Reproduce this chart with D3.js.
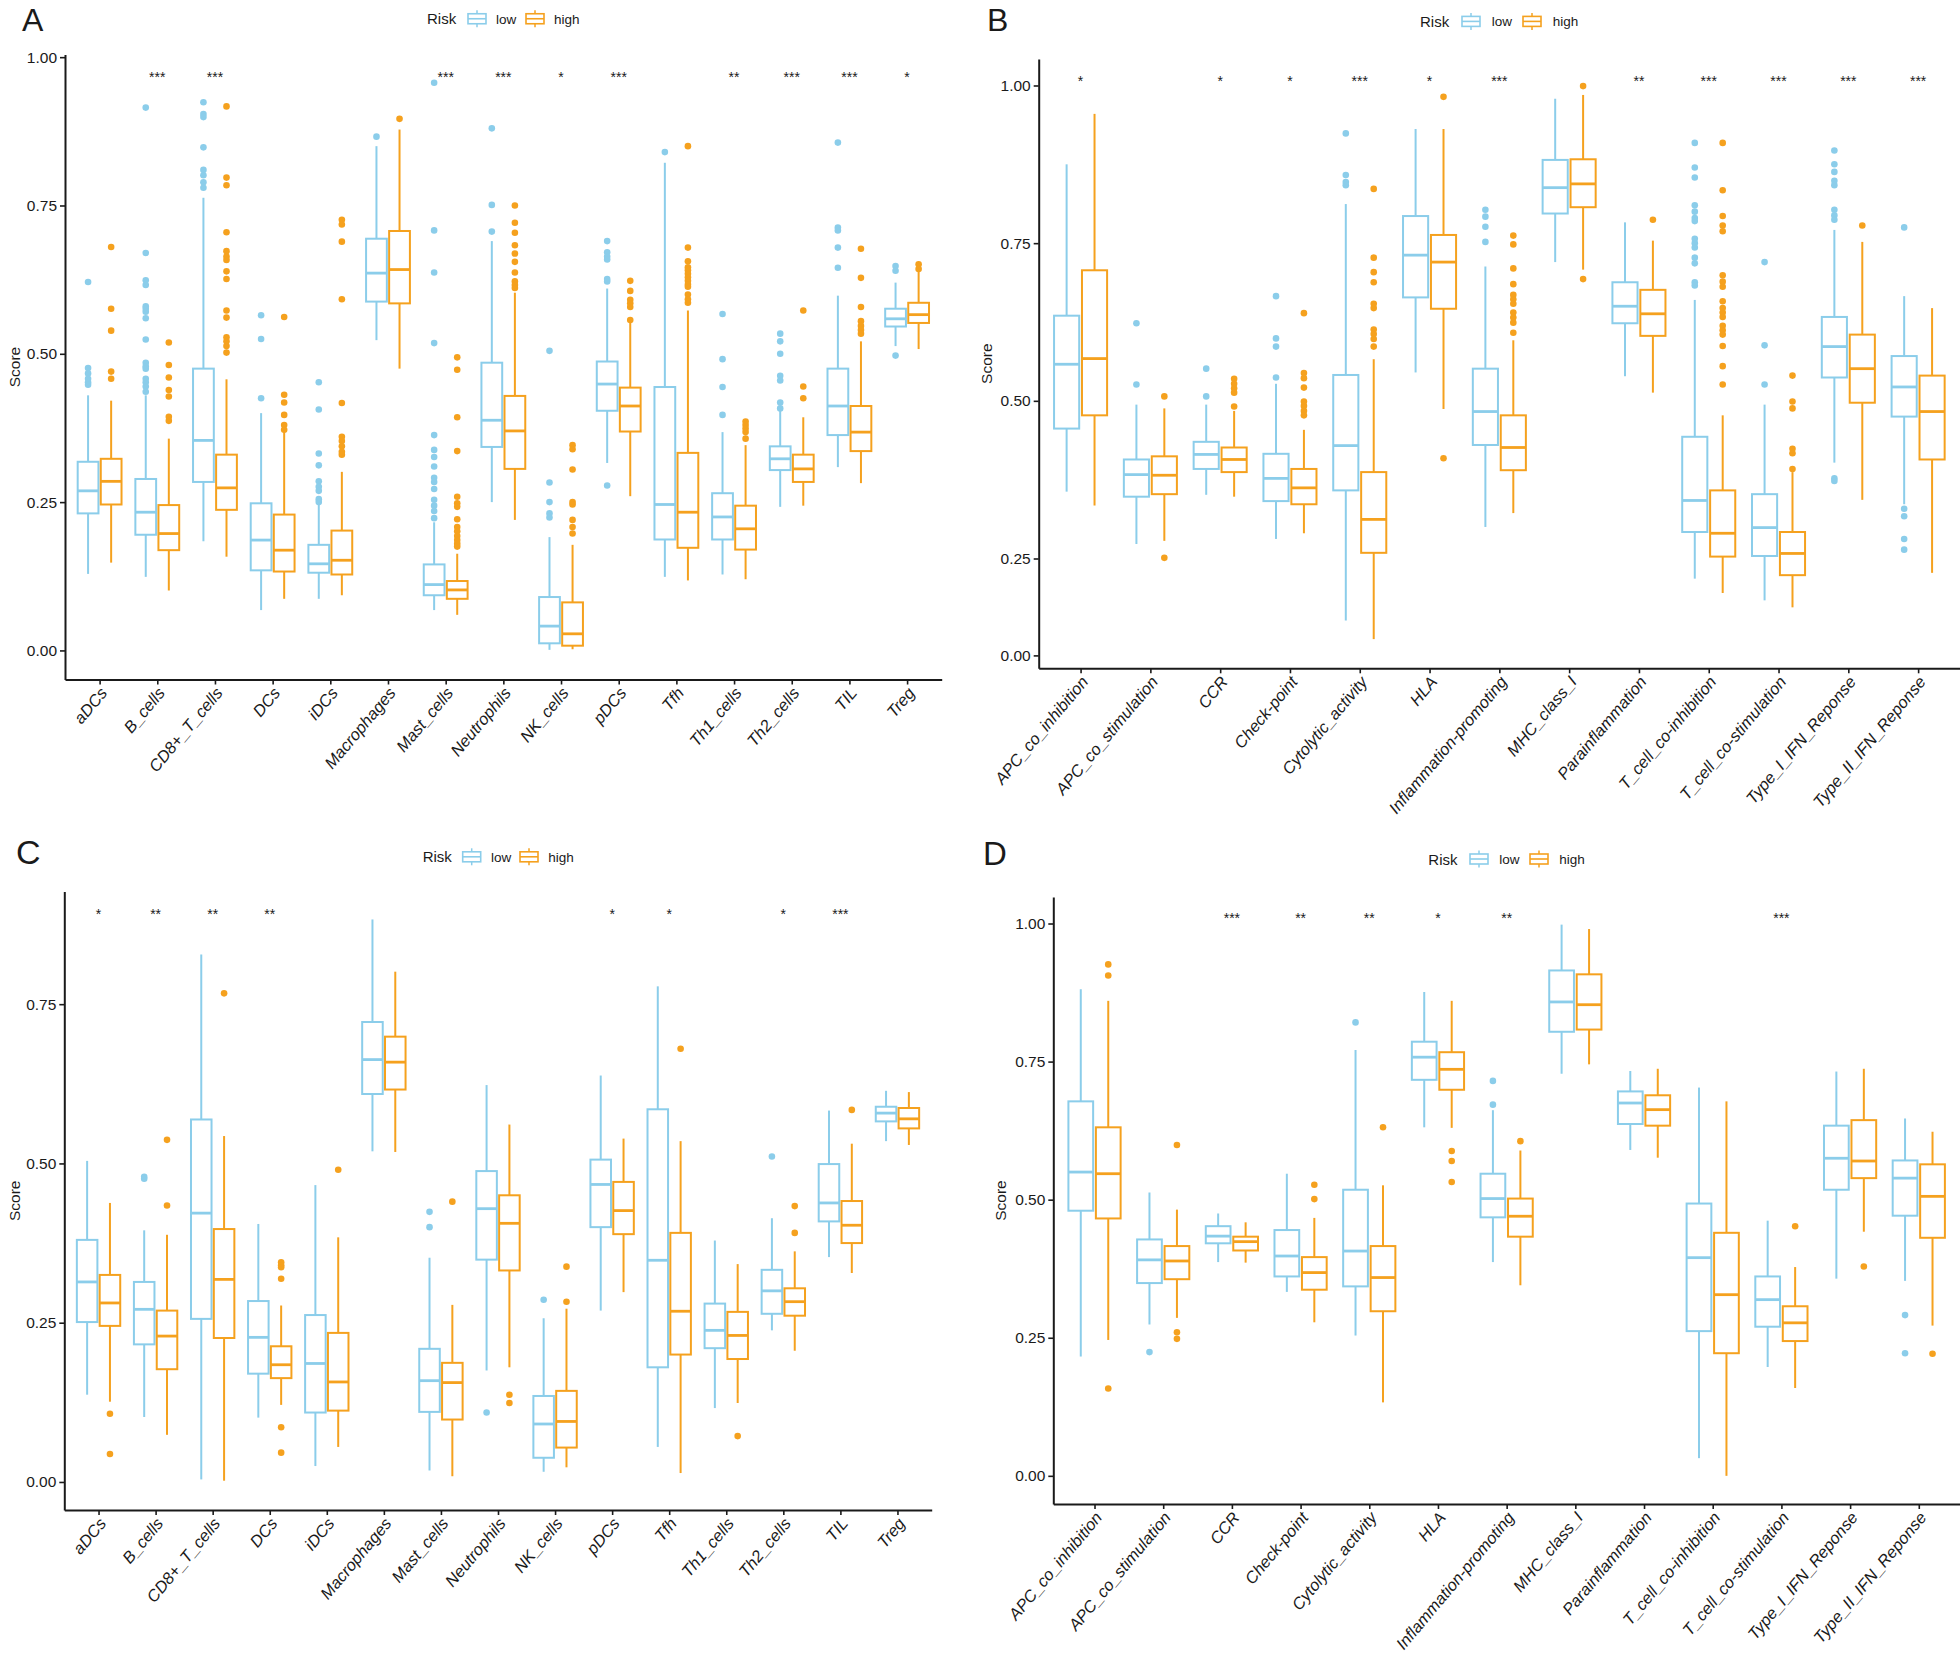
<!DOCTYPE html>
<html>
<head>
<meta charset="utf-8">
<script src="https://cdn.jsdelivr.net/npm/d3@7"></script>
<style>
  body { margin: 0; background: #fff; }
  svg { font-family: "Liberation Sans", Arial, Helvetica, sans-serif; }
</style>
</head>
<body>
<script>
// ---- categories & significance labels ----
const cellTypes = ["aDCs","B_cells","CD8+_T_cells","DCs","iDCs","Macrophages","Mast_cells","Neutrophils","NK_cells","pDCs","Tfh","Th1_cells","Th2_cells","TIL","Treg"];
const immuneFunctions = ["APC_co_inhibition","APC_co_stimulation","CCR","Check-point","Cytolytic_activity","HLA","Inflammation-promoting","MHC_class_I","Parainflammation","T_cell_co-inhibition","T_cell_co-stimulation","Type_I_IFN_Reponse","Type_II_IFN_Reponse"];
const groups = ["low", "high"];
const yTicks = [0, 0.25, 0.5, 0.75, 1];

const starsA = ["","***","***","","","","***","***","*","***","","**","***","***","*"];
const starsB = ["*","","*","*","***","*","***","","**","***","***","***","***"];
const starsC = ["*","**","**","**","","","","","","*","*","","*","***",""];
const starsD = ["","","***","**","**","*","**","","","","***","",""];

// ---- box stats: [lower whisker, Q1, median, Q3, upper whisker] ----
const boxA_low = [
  [0.129,0.231,0.269,0.318,0.430],[0.124,0.195,0.233,0.289,0.430],[0.184,0.284,0.354,0.475,0.763],
  [0.068,0.135,0.186,0.248,0.400],[0.087,0.131,0.146,0.178,0.248],[0.523,0.588,0.636,0.694,0.850],
  [0.068,0.093,0.111,0.145,0.216],[0.250,0.343,0.388,0.485,0.690],[0.001,0.012,0.041,0.090,0.191],
  [0.316,0.404,0.449,0.487,0.610],[0.124,0.187,0.246,0.444,0.822],[0.128,0.187,0.225,0.265,0.368],
  [0.242,0.304,0.323,0.344,0.404],[0.309,0.363,0.412,0.475,0.598],[0.513,0.546,0.559,0.576,0.620]];
const boxA_high = [
  [0.148,0.246,0.285,0.323,0.421],[0.101,0.169,0.197,0.245,0.357],[0.158,0.237,0.274,0.330,0.457],
  [0.087,0.133,0.169,0.229,0.374],[0.093,0.128,0.152,0.202,0.301],[0.475,0.585,0.642,0.707,0.878],
  [0.060,0.087,0.102,0.117,0.163],[0.220,0.306,0.370,0.429,0.603],[0.002,0.008,0.028,0.081,0.178],
  [0.260,0.369,0.412,0.443,0.555],[0.118,0.173,0.233,0.333,0.573],[0.120,0.170,0.205,0.244,0.346],
  [0.244,0.284,0.306,0.330,0.393],[0.282,0.336,0.368,0.412,0.521],[0.508,0.552,0.566,0.586,0.639]];
const outA_low = [
  [0.621,0.476,0.467,0.458,0.452,0.448],
  [0.915,0.670,0.624,0.616,0.580,0.576,0.571,0.560,0.524,0.485,0.479,0.475,0.458,0.452,0.445,0.436],
  [0.924,0.904,0.899,0.848,0.810,0.801,0.789,0.780],
  [0.565,0.525,0.425],
  [0.452,0.406,0.332,0.312,0.285,0.276,0.269,0.255,0.250],
  [0.866],
  [0.957,0.708,0.637,0.518,0.363,0.338,0.326,0.310,0.291,0.284,0.272,0.254,0.244,0.235,0.223],
  [0.880,0.751,0.706],
  [0.505,0.283,0.250,0.231,0.224],
  [0.690,0.671,0.664,0.659,0.626,0.622,0.278],
  [0.840],
  [0.567,0.491,0.444,0.397],
  [0.534,0.521,0.500,0.463,0.455,0.418,0.408],
  [0.856,0.713,0.708,0.679,0.645],
  [0.648,0.640,0.497]];
const outA_high = [
  [0.680,0.576,0.539,0.470,0.458],
  [0.519,0.481,0.460,0.439,0.428,0.394,0.387],
  [0.917,0.797,0.784,0.705,0.673,0.664,0.658,0.639,0.626,0.573,0.561,0.528,0.521,0.513,0.502],
  [0.562,0.431,0.418,0.397,0.380,0.372],
  [0.726,0.718,0.689,0.592,0.417,0.360,0.353,0.344,0.335,0.330],
  [0.896],
  [0.494,0.473,0.393,0.336,0.259,0.248,0.242,0.221,0.208,0.201,0.193,0.186,0.180,0.175],
  [0.750,0.721,0.704,0.683,0.669,0.655,0.637,0.622,0.616,0.611],
  [0.346,0.339,0.305,0.250,0.246,0.220,0.208,0.197],
  [0.623,0.606,0.591,0.585,0.579,0.557],
  [0.850,0.679,0.656,0.646,0.641,0.635,0.629,0.623,0.617,0.613,0.600,0.592,0.586],
  [0.386,0.380,0.374,0.368,0.357],
  [0.573,0.445,0.425],
  [0.677,0.628,0.579,0.555,0.547,0.540,0.534],
  [0.651,0.643]];

const boxB_low = [
  [0.356,0.456,0.558,0.635,0.875],[0.273,0.348,0.383,0.407,0.494],[0.351,0.392,0.415,0.435,0.494],
  [0.281,0.341,0.377,0.416,0.527],[0.090,0.358,0.429,0.541,0.812],[0.545,0.664,0.731,0.793,0.931],
  [0.300,0.430,0.483,0.551,0.713],[0.720,0.797,0.838,0.882,0.979],[0.539,0.623,0.650,0.688,0.783],
  [0.198,0.292,0.342,0.443,0.660],[0.142,0.254,0.299,0.352,0.494],[0.402,0.537,0.586,0.633,0.771],
  [0.336,0.475,0.522,0.571,0.666]];
const boxB_high = [
  [0.334,0.477,0.567,0.707,0.955],[0.278,0.352,0.382,0.412,0.488],[0.348,0.387,0.407,0.426,0.484],
  [0.290,0.336,0.362,0.392,0.454],[0.042,0.259,0.312,0.387,0.566],[0.487,0.646,0.720,0.763,0.931],
  [0.322,0.390,0.426,0.477,0.596],[0.708,0.807,0.844,0.883,0.985],[0.513,0.603,0.638,0.676,0.754],
  [0.161,0.253,0.290,0.358,0.477],[0.124,0.207,0.258,0.292,0.387],[0.343,0.497,0.551,0.605,0.752],
  [0.213,0.407,0.483,0.540,0.647]];
const outB_low = [
  [], [0.623,0.526], [0.551,0.507], [0.666,0.599,0.586,0.537], [0.924,0.858,0.847,0.842], [],
  [0.803,0.792,0.776,0.752], [], [],
  [0.909,0.870,0.854,0.810,0.800,0.790,0.785,0.757,0.750,0.743,0.727,0.718,0.688,0.683],
  [0.720,0.588,0.526],
  [0.897,0.875,0.863,0.849,0.842,0.803,0.794,0.787,0.377,0.373],
  [0.775,0.329,0.317,0.281,0.264]];
const outB_high = [
  [], [0.507,0.251], [0.535,0.527,0.520,0.513,0.491],
  [0.639,0.544,0.536,0.521,0.499,0.492,0.484,0.477],
  [0.836,0.727,0.704,0.688,0.654,0.647,0.613,0.606,0.598,0.586],
  [0.982,0.409],
  [0.762,0.748,0.710,0.685,0.668,0.661,0.654,0.640,0.632,0.624,0.608],
  [0.999,0.693], [0.787],
  [0.909,0.834,0.793,0.778,0.769,0.699,0.689,0.681,0.658,0.647,0.640,0.633,0.619,0.612,0.605,0.587,0.555,0.526],
  [0.540,0.499,0.488,0.424,0.417,0.392],
  [0.778], []];

const boxC_low = [
  [0.137,0.251,0.314,0.380,0.504],[0.102,0.216,0.271,0.314,0.395],[0.004,0.256,0.422,0.569,0.828],
  [0.101,0.170,0.227,0.284,0.405],[0.025,0.109,0.186,0.262,0.466],[0.519,0.609,0.663,0.722,0.883],
  [0.018,0.110,0.159,0.209,0.352],[0.175,0.349,0.429,0.488,0.623],[0.016,0.038,0.091,0.135,0.257],
  [0.269,0.400,0.467,0.506,0.638],[0.055,0.180,0.348,0.585,0.778],[0.116,0.210,0.238,0.280,0.379],
  [0.238,0.264,0.300,0.333,0.414],[0.353,0.409,0.438,0.499,0.583],[0.535,0.566,0.579,0.589,0.614]];
const boxC_high = [
  [0.126,0.245,0.281,0.325,0.438],[0.074,0.177,0.229,0.269,0.388],[0.002,0.226,0.318,0.397,0.543],
  [0.121,0.163,0.184,0.213,0.277],[0.055,0.112,0.157,0.234,0.384],[0.518,0.616,0.659,0.699,0.801],
  [0.009,0.098,0.156,0.187,0.278],[0.180,0.332,0.406,0.450,0.561],[0.023,0.054,0.095,0.143,0.272],
  [0.298,0.389,0.426,0.471,0.539],[0.014,0.200,0.268,0.391,0.535],[0.124,0.193,0.230,0.267,0.342],
  [0.206,0.261,0.283,0.304,0.362],[0.328,0.375,0.403,0.441,0.531],[0.529,0.555,0.570,0.587,0.612]];
const outC_low = [
  [], [0.479,0.476], [], [], [], [], [0.424,0.400], [0.109], [0.286], [], [], [], [0.511], [], []];
const outC_high = [
  [0.107,0.044], [0.537,0.434], [0.767], [0.345,0.340,0.337,0.319,0.086,0.046], [0.490], [],
  [0.440], [0.137,0.124], [0.338,0.283], [], [0.680], [0.072], [0.433,0.391], [0.584], []];

const boxD_low = [
  [0.216,0.480,0.550,0.678,0.881],[0.274,0.349,0.391,0.428,0.513],[0.387,0.421,0.434,0.452,0.475],
  [0.333,0.361,0.398,0.445,0.547],[0.254,0.343,0.407,0.518,0.771],[0.631,0.717,0.758,0.786,0.876],
  [0.387,0.468,0.502,0.547,0.662],[0.728,0.804,0.858,0.915,0.998],[0.590,0.637,0.675,0.696,0.733],
  [0.032,0.262,0.395,0.493,0.703],[0.197,0.270,0.319,0.361,0.462],[0.357,0.518,0.575,0.634,0.732],
  [0.353,0.471,0.539,0.571,0.647]];
const boxD_high = [
  [0.246,0.466,0.547,0.631,0.860],[0.286,0.356,0.389,0.416,0.482],[0.386,0.408,0.424,0.433,0.459],
  [0.278,0.337,0.368,0.396,0.467],[0.133,0.298,0.359,0.416,0.526],[0.630,0.699,0.736,0.767,0.860],
  [0.345,0.433,0.470,0.502,0.589],[0.745,0.808,0.853,0.908,0.990],[0.576,0.634,0.663,0.689,0.737],
  [0.000,0.222,0.328,0.440,0.678],[0.159,0.244,0.277,0.307,0.378],[0.442,0.539,0.570,0.644,0.737],
  [0.272,0.431,0.506,0.564,0.623]];
const outD_low = [
  [], [0.224], [], [], [0.821], [], [0.715,0.672], [], [], [], [], [], [0.291,0.222]];
const outD_high = [
  [0.926,0.906,0.158], [0.599,0.260,0.248], [], [0.527,0.501], [0.631], [0.588,0.570,0.532],
  [0.606], [], [], [], [0.452], [0.379], [0.221]];

// ---- drawing ----
const font = '"Liberation Sans", Arial, Helvetica, sans-serif';
const ink = "#1a1a1a";
const color = d3.scaleOrdinal().domain(groups).range(["#8BCDEA", "#F5A11E"]);

const svg = d3.select("body").append("svg").attr("width", 1960).attr("height", 1660);

// layout of the four panels (B has a compressed 0-0.25 band, like the original)
const panels = [
  {tag: "A", tagX: 22, tagY: 31, tagSize: 32, cats: cellTypes, low: boxA_low, high: boxA_high,
   outLow: outA_low, outHigh: outA_high, stars: starsA, starY: 0.972,
   left: 65, right: 941.7, yDomain: [-0.049, 1.0045], yRange: [679.5, 54.5],
   scoreX: 14, legend: [427, 468, 496, 526, 554, 18.75]},
  {tag: "B", tagX: 987, tagY: 31, tagSize: 32, cats: immuneFunctions, low: boxB_low, high: boxB_high,
   outLow: outB_low, outHigh: outB_high, stars: starsB, starY: 1.012,
   left: 1038.7, right: 1960, yDomain: [-0.033, 0, 0.25, 1.042], yRange: [668.3, 655.4, 558.5, 59],
   scoreX: 986, legend: [1420, 1462, 1491.7, 1523, 1552.7, 21.4]},
  {tag: "C", tagX: 16, tagY: 863.5, tagSize: 34, cats: cellTypes, low: boxC_low, high: boxC_high,
   outLow: outC_low, outHigh: outC_high, stars: starsC, starY: 0.897,
   left: 64.3, right: 931.7, yDomain: [-0.044, 0.9267], yRange: [1510, 891.6],
   scoreX: 14, legend: [422.7, 462.7, 491, 520, 548.3, 856.8]},
  {tag: "D", tagX: 983, tagY: 865, tagSize: 33, cats: immuneFunctions, low: boxD_low, high: boxD_high,
   outLow: outD_low, outHigh: outD_high, stars: starsD, starY: 1.016,
   left: 1053.3, right: 1960, yDomain: [-0.051, 1.048], yRange: [1504, 897],
   scoreX: 1000.7, legend: [1428.3, 1470, 1499.3, 1530, 1559.3, 859]}
];

panels.forEach(drawPanel);

function drawPanel(p) {
  const g = svg.append("g").attr("class", "panel-" + p.tag);
  const x = d3.scalePoint().domain(p.cats).range([p.left, p.right]).padding(0.6);
  const y = d3.scaleLinear().domain(p.yDomain).range(p.yRange);
  const step = x.step(), bw = step * 0.36, off = step * 0.2;
  const bottom = p.yRange[0], top = p.yRange[p.yRange.length - 1];
  const [yMin, yMax] = d3.extent(p.yDomain);

  // y axis (only ticks inside the panel's range)
  const ya = g.append("g").attr("transform", `translate(${p.left},0)`)
    .call(d3.axisLeft(y)
      .tickValues(yTicks.filter(v => v >= yMin && v <= yMax))
      .tickFormat(d3.format(".2f")).tickSize(5).tickPadding(3).tickSizeOuter(0));
  ya.attr("font-family", font).attr("font-size", 15.5);
  ya.select(".domain").attr("stroke", ink).attr("stroke-width", 2);
  ya.selectAll(".tick line").attr("stroke", ink).attr("stroke-width", 1.6);
  ya.selectAll(".tick text").attr("fill", ink);

  // x axis
  const xa = g.append("g").attr("transform", `translate(0,${bottom})`)
    .call(d3.axisBottom(x).tickSize(5).tickSizeOuter(0));
  xa.attr("font-family", font).attr("font-size", 16.5);
  xa.select(".domain").attr("stroke", ink).attr("stroke-width", 2);
  xa.selectAll(".tick line").attr("stroke", ink).attr("stroke-width", 1.6);
  xa.selectAll(".tick text")
    .attr("fill", ink).attr("x", 0).attr("y", 0).attr("dy", 0)
    .attr("text-anchor", "end").attr("font-style", "italic")
    .attr("transform", "translate(8,14) rotate(-50)");

  // boxes
  const sets = {low: [p.low, p.outLow, -off], high: [p.high, p.outHigh, off]};
  groups.forEach(grp => {
    const [stats, outs, dx] = sets[grp];
    const col = color(grp);
    const boxes = g.append("g").attr("class", "box-" + grp)
      .selectAll("g")
      .data(p.cats.map((c, i) => ({c, s: stats[i], o: outs[i]})))
      .join("g")
      .attr("transform", d => `translate(${x(d.c) + dx},0)`);

    boxes.append("line").attr("y1", d => y(d.s[4])).attr("y2", d => y(d.s[3]))
      .attr("stroke", col).attr("stroke-width", 2);
    boxes.append("line").attr("y1", d => y(d.s[1])).attr("y2", d => y(d.s[0]))
      .attr("stroke", col).attr("stroke-width", 2);
    boxes.append("rect")
      .attr("x", -bw / 2).attr("width", bw)
      .attr("y", d => y(d.s[3])).attr("height", d => y(d.s[1]) - y(d.s[3]))
      .attr("fill", "#fff").attr("stroke", col).attr("stroke-width", 2);
    boxes.append("line").attr("x1", -bw / 2).attr("x2", bw / 2)
      .attr("y1", d => y(d.s[2])).attr("y2", d => y(d.s[2]))
      .attr("stroke", col).attr("stroke-width", 2.8);
    boxes.selectAll("circle").data(d => d.o).join("circle")
      .attr("cy", v => y(v)).attr("r", 3.3).attr("fill", col);
  });

  // significance stars
  g.append("g").selectAll("text")
    .data(p.cats.map((c, i) => ({c, s: p.stars[i]})).filter(d => d.s))
    .join("text")
    .attr("x", d => x(d.c)).attr("y", y(p.starY) + 8)
    .attr("text-anchor", "middle").attr("font-size", 14).attr("fill", ink)
    .text(d => d.s);

  // y title
  g.append("text")
    .attr("transform", `translate(${p.scoreX + 5.5},${(top + bottom) / 2}) rotate(-90)`)
    .attr("text-anchor", "middle").attr("font-size", 15.5).attr("fill", ink)
    .text("Score");

  // panel tag
  g.append("text").attr("x", p.tagX).attr("y", p.tagY)
    .attr("font-size", p.tagSize).attr("fill", ink).text(p.tag);

  // legend
  const [riskX, kLow, tLow, kHigh, tHigh, ly] = p.legend;
  const lg = g.append("g").attr("class", "legend");
  lg.append("text").attr("x", riskX).attr("y", ly + 5.5).attr("font-size", 15).attr("fill", ink).text("Risk");
  [[kLow, tLow, "low"], [kHigh, tHigh, "high"]].forEach(([kx, tx, grp]) => {
    const col = color(grp), kw = 18;
    const k = lg.append("g").attr("transform", `translate(${kx},${ly})`);
    k.append("line").attr("x1", kw / 2).attr("x2", kw / 2).attr("y1", -8.5).attr("y2", 8.5)
      .attr("stroke", col).attr("stroke-width", 1.5);
    k.append("rect").attr("x", 0).attr("y", -5).attr("width", kw).attr("height", 10)
      .attr("fill", "#fff").attr("stroke", col).attr("stroke-width", 1.6);
    k.append("line").attr("x1", 0).attr("x2", kw).attr("y1", 0).attr("y2", 0)
      .attr("stroke", col).attr("stroke-width", 1.6);
    lg.append("text").attr("x", tx).attr("y", ly + 5).attr("font-size", 13.5).attr("fill", ink).text(grp);
  });
}
</script>
</body>
</html>
